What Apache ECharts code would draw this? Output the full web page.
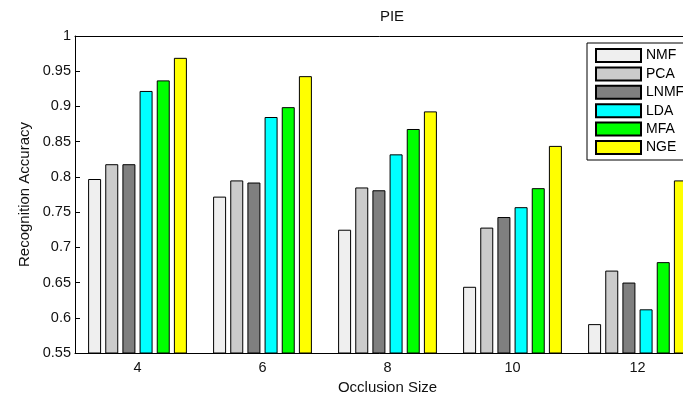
<!DOCTYPE html>
<html>
<head>
<meta charset="utf-8">
<script src="https://cdn.jsdelivr.net/npm/echarts@6/dist/echarts.min.js"></script>
<style>
    html, body { margin: 0; padding: 0; background: #fff; }
    #chart { width: 683px; height: 396px; }
</style>
</head>
<body>
<div id="chart"></div>
<script>
    // occlusion sizes on the x axis
    const sizes = ['4', '6', '8', '10', '12'];
    const methods = ['NMF', 'PCA', 'LNMF', 'LDA', 'MFA', 'NGE'];
    const colors = ['#efefef', '#cbcbcb', '#7f7f7f', '#00ffff', '#00ff00', '#ffff00'];

    // recognition accuracy per method
    const nmf  = [0.797, 0.772, 0.725, 0.644, 0.591];
    const pca  = [0.818, 0.795, 0.785, 0.728, 0.667];
    const lnmf = [0.818, 0.792, 0.781, 0.743, 0.650];
    const lda  = [0.922, 0.885, 0.832, 0.757, 0.612];
    const mfa  = [0.937, 0.899, 0.868, 0.784, 0.679];
    const nge  = [0.969, 0.943, 0.893, 0.844, 0.795];
    const values = [nmf, pca, lnmf, lda, mfa, nge];

    const yTicks = [0.55, 0.6, 0.65, 0.7, 0.75, 0.8, 0.85, 0.9, 0.95, 1];

    let myChart = echarts.init(document.getElementById('chart'));
    const font = 'Liberation Sans, Arial, sans-serif';

    let series = methods.map((name, i) => ({
        name: name,
        type: 'bar',
        data: values[i],
        barWidth: 13,
        barGap: '32%',
        itemStyle: {
            color: colors[i],
            borderColor: '#000',
            borderWidth: 1
        },
        emphasis: { disabled: true }
    }));

    let option = {
        animation: false,
        title: {
            text: 'PIE',
            left: 387,
            top: 4,
            textAlign: 'center',
            textStyle: { fontFamily: font, fontSize: 15, fontWeight: 'normal', color: '#111' }
        },
        legend: {
            orient: 'vertical',
            left: 587,
            top: 43,
            padding: [5, 6, 5, 8],
            icon: 'rect',
            itemWidth: 45,
            itemHeight: 13,
            itemGap: 3.4,
            borderColor: '#000',
            borderWidth: 1,
            backgroundColor: '#fff',
            textStyle: { fontFamily: font, fontSize: 14, color: '#000' },
            data: methods
        },
        grid: {
            left: 75,
            top: 36,
            width: 625,
            height: 317,
            outerBoundsMode: 'none'
        },
        xAxis: [
            {
                type: 'category',
                data: sizes,
                position: 'bottom',
                name: 'Occlusion Size',
                nameLocation: 'middle',
                nameGap: 24,
                nameTextStyle: { fontFamily: font, fontSize: 15, color: '#111' },
                axisLine: { lineStyle: { color: '#000', width: 1 } },
                axisTick: { alignWithLabel: true, inside: true, length: 5, lineStyle: { color: '#000' } },
                axisLabel: { fontFamily: font, fontSize: 14.5, color: '#111', margin: 7 }
            },
            {
                type: 'category',
                data: sizes,
                position: 'top',
                axisLine: { lineStyle: { color: '#000', width: 1 } },
                axisTick: { alignWithLabel: true, inside: true, length: 5, lineStyle: { color: '#000' } },
                axisLabel: { show: false }
            }
        ],
        yAxis: [
            {
                type: 'value',
                min: yTicks[0],
                max: yTicks[yTicks.length - 1],
                interval: 0.05,
                name: 'Recognition Accuracy',
                nameLocation: 'middle',
                nameGap: 41,
                nameTextStyle: { fontFamily: font, fontSize: 15, color: '#111' },
                axisLine: { show: true, lineStyle: { color: '#000', width: 1 } },
                axisTick: { show: true, inside: true, length: 5, lineStyle: { color: '#000' } },
                splitLine: { show: false },
                axisLabel: {
                    fontFamily: font, fontSize: 14.5, color: '#111', margin: 4,
                    formatter: v => String(+v.toFixed(2))
                }
            },
            {
                type: 'value',
                position: 'right',
                min: yTicks[0],
                max: yTicks[yTicks.length - 1],
                interval: 0.05,
                axisLine: { show: true, lineStyle: { color: '#000' } },
                axisTick: { show: false },
                axisLabel: { show: false },
                splitLine: { show: false }
            }
        ],
        series: series
    };

    myChart.setOption(option);
</script>
</body>
</html>
